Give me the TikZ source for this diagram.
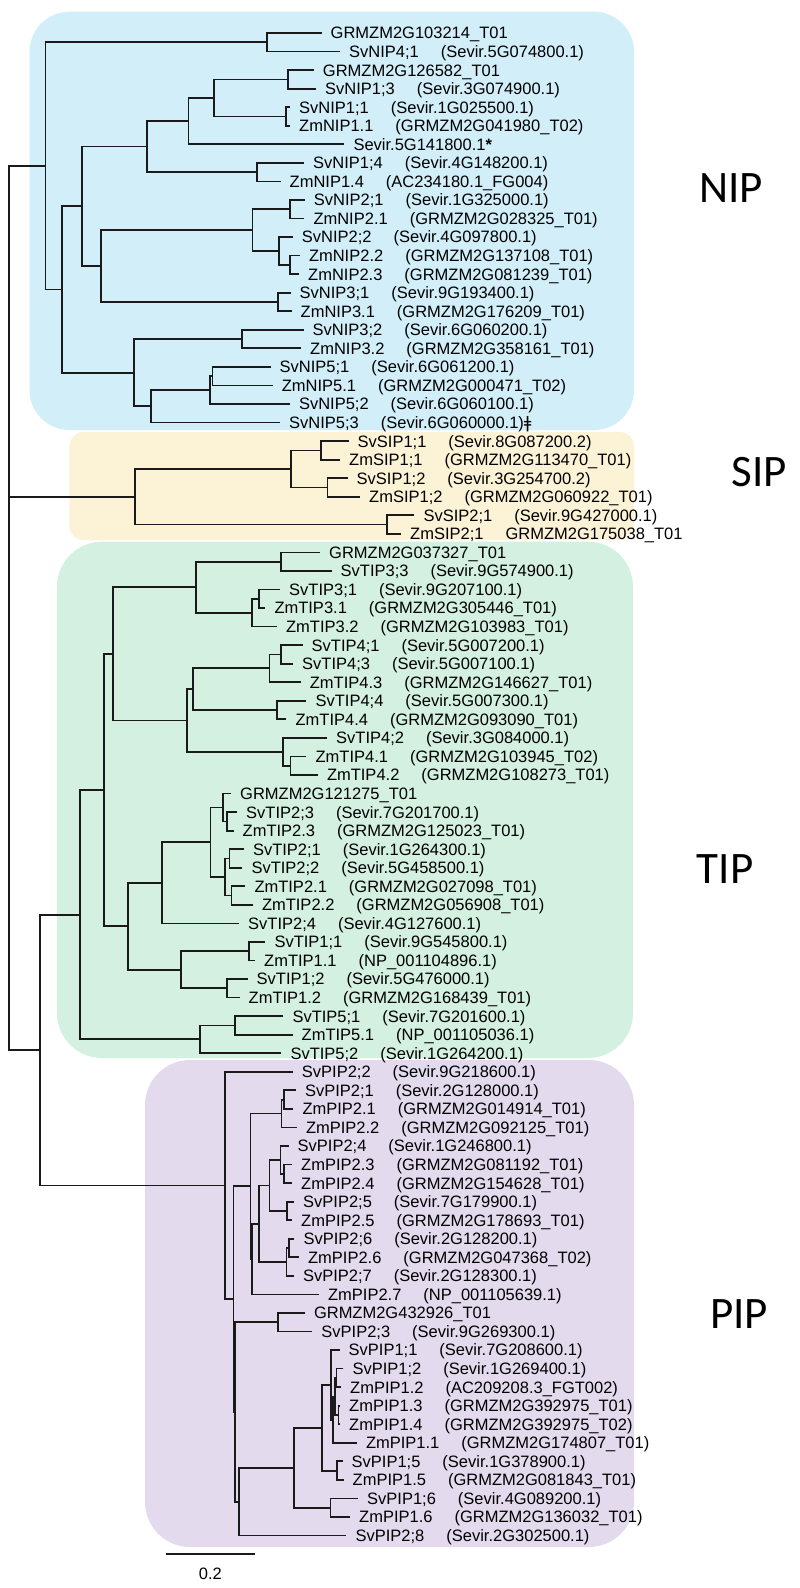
\documentclass[tikz,border=0pt]{standalone}
\usepackage{fontspec}
\setmainfont{Liberation Sans}
\newfontfamily\bigfont{Carlito}
\newfontfamily\djv{DejaVu Sans}
\usetikzlibrary{calc}
\definecolor{nipc}{HTML}{D1EEF9}
\definecolor{sipc}{HTML}{FCF2D6}
\definecolor{tipc}{HTML}{D3F0E1}
\definecolor{pipc}{HTML}{E4DAEE}
\definecolor{brc}{HTML}{1A1A1A}
\newcommand\lf[5]{\coordinate (#1) at (#3,{33+(#2-1)*18.55});
  \node[lab] (#1t) at (#1) {#4\hspace{22pt}#5};}
\newcommand\jn[4]{\path let \p1=($(#3)!.5!(#4)$) in coordinate (#1) at (#2pt,\y1);
  \draw[br] (#3) -| (#1) |- (#4);}
\begin{document}
\begin{tikzpicture}[x=1pt,y=-1pt,
  br/.style={line width=1.75pt, draw=brc},
  lab/.style={anchor=base west, inner sep=0pt, font=\fontsize{16.5}{18}\selectfont, xshift=9pt, yshift=-5.9pt},
  grp/.style={font=\bigfont\fontsize{45}{45}\selectfont},
  bx/.style={rounded corners=#1}]
\useasboundingbox (0,0) rectangle (800,1588);
\fill[nipc, bx=40pt] (29.5,11.7) rectangle (634,430);
\fill[sipc, bx=14pt] (69.4,432) rectangle (634,540);
\fill[tipc, bx=45pt] (57,541.7) rectangle (633,1058);
\fill[pipc, bx=45pt] (145,1060) rectangle (634,1547);
\node[grp] (nipL) at (731,188) {NIP};
\node[grp] (sipL) at (759.5,472) {SIP};
\node[grp] (tipL) at (725,869) {TIP};
\node[grp] (pipL) at (739,1314) {PIP};
% leaves
\lf{L1}{1}{321.5}{GRMZM2G103214\_T01}{}
\lf{L2}{2}{340}{SvNIP4;1}{(Sevir.5G074800.1)}
\lf{L3}{3}{313.75}{GRMZM2G126582\_T01}{}
\lf{L4}{4}{316}{SvNIP1;3}{(Sevir.3G074900.1)}
\lf{L5}{5}{290}{SvNIP1;1}{(Sevir.1G025500.1)}
\lf{L6}{6}{290}{ZmNIP1.1}{(GRMZM2G041980\_T02)}
\lf{L7}{7}{344.3}{Sevir.5G141800.1\textbf{*}}{}
\lf{L8}{8}{304}{SvNIP1;4}{(Sevir.4G148200.1)}
\lf{L9}{9}{280.5}{ZmNIP1.4}{(AC234180.1\_FG004)}
\lf{L10}{10}{304.7}{SvNIP2;1}{(Sevir.1G325000.1)}
\lf{L11}{11}{304.3}{ZmNIP2.1}{(GRMZM2G028325\_T01)}
\lf{L12}{12}{292.7}{SvNIP2;2}{(Sevir.4G097800.1)}
\lf{L13}{13}{299.8}{ZmNIP2.2}{(GRMZM2G137108\_T01)}
\lf{L14}{14}{299}{ZmNIP2.3}{(GRMZM2G081239\_T01)}
\lf{L15}{15}{290.5}{SvNIP3;1}{(Sevir.9G193400.1)}
\lf{L16}{16}{291.5}{ZmNIP3.1}{(GRMZM2G176209\_T01)}
\lf{L17}{17}{303.5}{SvNIP3;2}{(Sevir.6G060200.1)}
\lf{L18}{18}{301}{ZmNIP3.2}{(GRMZM2G358161\_T01)}
\lf{L19}{19}{270.5}{SvNIP5;1}{(Sevir.6G061200.1)}
\lf{L20}{20}{272.7}{ZmNIP5.1}{(GRMZM2G000471\_T02)}
\lf{L21}{21}{289.8}{SvNIP5;2}{(Sevir.6G060100.1)}
\lf{L22}{22}{280}{SvNIP5;3}{(Sevir.6G060000.1){\djv ǂ}}
\lf{L23}{23}{348.5}{SvSIP1;1}{(Sevir.8G087200.2)}
\lf{L24}{24}{340}{ZmSIP1;1}{(GRMZM2G113470\_T01)}
\lf{L25}{25}{347.5}{SvSIP1;2}{(Sevir.3G254700.2)}
\lf{L26}{26}{360}{ZmSIP1;2}{(GRMZM2G060922\_T01)}
\lf{L27}{27}{414.3}{SvSIP2;1}{(Sevir.9G427000.1)}
\lf{L28}{28}{401}{ZmSIP2;1}{GRMZM2G175038\_T01}
\lf{L29}{29}{320}{GRMZM2G037327\_T01}{}
\lf{L30}{30}{331.5}{SvTIP3;3}{(Sevir.9G574900.1)}
\lf{L31}{31}{280}{SvTIP3;1}{(Sevir.9G207100.1)}
\lf{L32}{32}{265.3}{ZmTIP3.1}{(GRMZM2G305446\_T01)}
\lf{L33}{33}{276.9}{ZmTIP3.2}{(GRMZM2G103983\_T01)}
\lf{L34}{34}{302.5}{SvTIP4;1}{(Sevir.5G007200.1)}
\lf{L35}{35}{293}{SvTIP4;3}{(Sevir.5G007100.1)}
\lf{L36}{36}{300.7}{ZmTIP4.3}{(GRMZM2G146627\_T01)}
\lf{L37}{37}{306.4}{SvTIP4;4}{(Sevir.5G007300.1)}
\lf{L38}{38}{286.4}{ZmTIP4.4}{(GRMZM2G093090\_T01)}
\lf{L39}{39}{327}{SvTIP4;2}{(Sevir.3G084000.1)}
\lf{L40}{40}{306.4}{ZmTIP4.1}{(GRMZM2G103945\_T02)}
\lf{L41}{41}{317.8}{ZmTIP4.2}{(GRMZM2G108273\_T01)}
\lf{L42}{42}{231}{GRMZM2G121275\_T01}{}
\lf{L43}{43}{237}{SvTIP2;3}{(Sevir.7G201700.1)}
\lf{L44}{44}{233.5}{ZmTIP2.3}{(GRMZM2G125023\_T01)}
\lf{L45}{45}{243.8}{SvTIP2;1}{(Sevir.1G264300.1)}
\lf{L46}{46}{242.3}{SvTIP2;2}{(Sevir.5G458500.1)}
\lf{L47}{47}{245.3}{ZmTIP2.1}{(GRMZM2G027098\_T01)}
\lf{L48}{48}{252.8}{ZmTIP2.2}{(GRMZM2G056908\_T01)}
\lf{L49}{49}{239}{SvTIP2;4}{(Sevir.4G127600.1)}
\lf{L50}{50}{265.3}{SvTIP1;1}{(Sevir.9G545800.1)}
\lf{L51}{51}{255}{ZmTIP1.1}{(NP\_001104896.1)}
\lf{L52}{52}{247.5}{SvTIP1;2}{(Sevir.5G476000.1)}
\lf{L53}{53}{239.5}{ZmTIP1.2}{(GRMZM2G168439\_T01)}
\lf{L54}{54}{283.3}{SvTIP5;1}{(Sevir.7G201600.1)}
\lf{L55}{55}{292.5}{ZmTIP5.1}{(NP\_001105036.1)}
\lf{L56}{56}{281.3}{SvTIP5;2}{(Sevir.1G264200.1)}
\lf{L57}{57}{292.7}{SvPIP2;2}{(Sevir.9G218600.1)}
\lf{L58}{58}{295.8}{SvPIP2;1}{(Sevir.2G128000.1)}
\lf{L59}{59}{293.3}{ZmPIP2.1}{(GRMZM2G014914\_T01)}
\lf{L60}{60}{296.8}{ZmPIP2.2}{(GRMZM2G092125\_T01)}
\lf{L61}{61}{288.5}{SvPIP2;4}{(Sevir.1G246800.1)}
\lf{L62}{62}{292}{ZmPIP2.3}{(GRMZM2G081192\_T01)}
\lf{L63}{63}{292}{ZmPIP2.4}{(GRMZM2G154628\_T01)}
\lf{L64}{64}{294}{SvPIP2;5}{(Sevir.7G179900.1)}
\lf{L65}{65}{292}{ZmPIP2.5}{(GRMZM2G178693\_T01)}
\lf{L66}{66}{294.3}{SvPIP2;6}{(Sevir.2G128200.1)}
\lf{L67}{67}{298.9}{ZmPIP2.6}{(GRMZM2G047368\_T02)}
\lf{L68}{68}{293.8}{SvPIP2;7}{(Sevir.2G128300.1)}
\lf{L69}{69}{318.9}{ZmPIP2.7}{(NP\_001105639.1)}
\lf{L70}{70}{304.8}{GRMZM2G432926\_T01}{}
\lf{L71}{71}{312.2}{SvPIP2;3}{(Sevir.9G269300.1)}
\lf{L72}{72}{339.5}{SvPIP1;1}{(Sevir.7G208600.1)}
\lf{L73}{73}{343.3}{SvPIP1;2}{(Sevir.1G269400.1)}
\lf{L74}{74}{341}{ZmPIP1.2}{(AC209208.3\_FGT002)}
\lf{L75}{75}{340}{ZmPIP1.3}{(GRMZM2G392975\_T01)}
\lf{L76}{76}{340}{ZmPIP1.4}{(GRMZM2G392975\_T02)}
\lf{L77}{77}{356.8}{ZmPIP1.1}{(GRMZM2G174807\_T01)}
\lf{L78}{78}{342.5}{SvPIP1;5}{(Sevir.1G378900.1)}
\lf{L79}{79}{343.5}{ZmPIP1.5}{(GRMZM2G081843\_T01)}
\lf{L80}{80}{358}{SvPIP1;6}{(Sevir.4G089200.1)}
\lf{L81}{81}{350}{ZmPIP1.6}{(GRMZM2G136032\_T01)}
\lf{L82}{82}{346.4}{SvPIP2;8}{(Sevir.2G302500.1)}
% NIP
\jn{nA}{267}{L1}{L2}
\jn{n288}{288}{L3}{L4}
\jn{n286}{286}{L5}{L6}
\jn{n214}{214}{n288}{n286}
\jn{n188}{188.5}{n214}{L7}
\jn{n257}{256.7}{L8}{L9}
\jn{n147}{147}{n188}{n257}
\jn{n290a}{290}{L10}{L11}
\jn{n290b}{290}{L13}{L14}
\jn{n279}{279}{L12}{n290b}
\jn{n252}{252.5}{n290a}{n279}
\jn{n278}{278}{L15}{L16}
\jn{n101}{101}{n252}{n278}
\jn{n82}{82}{n147}{n101}
\jn{n242}{242}{L17}{L18}
\jn{n212}{212.5}{L19}{L20}
\jn{n210}{210}{n212}{L21}
\jn{n150}{150.7}{n210}{L22}
\jn{n134}{134}{n242}{n150}
\jn{n62}{62}{n82}{n134}
\jn{nNIP}{45.5}{nA}{n62}
% SIP
\jn{s320}{320.7}{L23}{L24}
\jn{s327}{327.4}{L25}{L26}
\jn{s291}{291}{s320}{s327}
\jn{s387}{387}{L27}{L28}
\jn{sSIP}{134.7}{s291}{s387}
% TIP
\jn{t281}{281}{L29}{L30}
\jn{t259}{259}{L31}{L32}
\jn{t252}{251.7}{t259}{L33}
\jn{t196}{195.7}{t281}{t252}
\jn{t281b}{281}{L34}{L35}
\jn{t269}{269.4}{t281b}{L36}
\jn{t277}{277}{L37}{L38}
\jn{t193}{193}{t269}{t277}
\jn{t290}{290.4}{L40}{L41}
\jn{t283}{282.8}{L39}{t290}
\jn{t187}{187.3}{t193}{t283}
\jn{t113}{112.8}{t196}{t187}
\jn{t227}{227}{L43}{L44}
\jn{t223}{223}{L42}{t227}
\jn{t229}{229.4}{L45}{L46}
\jn{t231}{231.5}{L47}{L48}
\jn{t225}{225}{t229}{t231}
\jn{t210}{210.4}{t223}{t225}
\jn{t162}{162}{t210}{L49}
\jn{t249}{249}{L50}{L51}
\jn{t227b}{227.3}{L52}{L53}
\jn{t181}{181}{t249}{t227b}
\jn{t128}{128}{t162}{t181}
\jn{t104}{104}{t113}{t128}
\jn{t235}{234.8}{L54}{L55}
\jn{t200}{200}{t235}{L56}
\jn{t80}{80}{t104}{t200}
% PIP
\jn{p283}{284}{L58}{L59}
\jn{p281}{281.5}{p283}{L60}
\jn{p284}{284}{L62}{L63}
\jn{p280}{280.5}{L61}{p284}
\jn{p287}{287}{L64}{L65}
\jn{p269}{269.4}{p280}{p287}
\jn{p289}{289}{L66}{L67}
\jn{p286}{286.5}{p289}{L68}
\jn{p259}{258.8}{p269}{p286}
\jn{p252a}{251.7}{p259}{L69}
\jn{p252b}{250.5}{p281}{p252a}
\jn{p278}{277.8}{L70}{L71}
\jn{pC}{336.5}{L73}{L74}
\jn{pD}{338.5}{L75}{L76}
\jn{pE}{335}{pC}{pD}
\jn{pB}{333}{pE}{L77}
\jn{pA}{331}{L72}{pB}
\jn{p337}{336.7}{L78}{L79}
\jn{p322}{322}{pA}{p337}
\jn{p330}{330.4}{L80}{L81}
\jn{p294}{293.8}{p322}{p330}
\jn{p239}{239}{p294}{L82}
\jn{p235}{235}{p278}{p239}
\jn{p234}{233.6}{p252b}{p235}
\jn{pPIP}{225}{L57}{p234}
% root
\jn{n40}{40}{t80}{pPIP}
\jn{root}{9.3}{nNIP}{n40}
\draw[br] (sSIP) -| (root);
% scale bar
\coordinate (sb1) at (166,1554);
\coordinate (sb2) at (254.6,1554);
\draw[br] (sb1) -- (sb2);
\node[font=\fontsize{16.5}{18}\selectfont] (sbl) at (210.3,1574) {0.2};
\end{tikzpicture}
\end{document}
